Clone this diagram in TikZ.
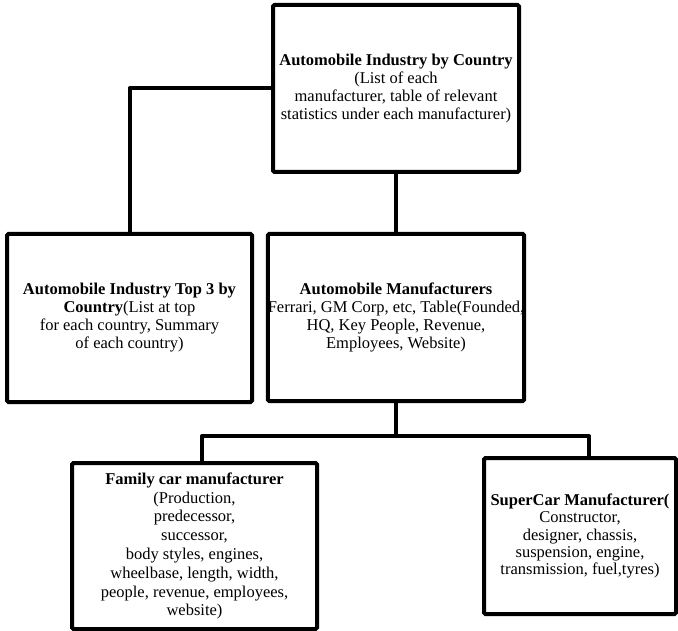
\documentclass[tikz,border=0pt]{standalone}
\usepackage{fontspec}
\setmainfont{Liberation Serif}
\begin{document}
\begin{tikzpicture}[x=1pt,y=-1pt,
  box/.style={draw=black, line width=4pt, rounded corners=1.5pt, inner sep=0pt,
    align=center, font=\fontsize{16.5}{18}\selectfont, fill=white},
  conn/.style={draw=black, line width=4pt, line join=round}]
\useasboundingbox (0,0) rectangle (678,631);
\node[box, minimum width=246pt, minimum height=167pt] (top) at (396,88.5)
  {\textbf{Automobile Industry by Country}\\(List of each\\manufacturer, table of relevant\\statistics under each manufacturer)};
\node[box, minimum width=245pt, minimum height=168pt] (left) at (129.5,318)
  {\textbf{Automobile Industry Top 3 by}\\\textbf{Country}(List at top\\for each country, Summary\\of each country)};
\node[box, minimum width=245pt, minimum height=167pt] (mid) at (396,317.5)
  {\textbf{Automobile Manufacturers}\\Ferrari, GM Corp, etc, Table(Founded,\\HQ, Key People, Revenue,\\Employees, Website)};
\node[box, minimum width=245pt, minimum height=166pt, font=\fontsize{16.5}{18.8}\selectfont] (bl) at (194.5,546)
  {\textbf{Family car manufacturer}\\(Production,\\predecessor,\\successor,\\body styles, engines,\\wheelbase, length, width,\\people, revenue, employees,\\website)};
\node[box, minimum width=192pt, minimum height=156pt, font=\fontsize{16.5}{17.2}\selectfont] (br) at (580,536)
  {\textbf{SuperCar Manufacturer(}\\Constructor,\\designer, chassis,\\suspension, engine,\\transmission, fuel,tyres)};
\coordinate (hm) at (396,436);
\coordinate (hl) at (202,436);
\coordinate (hr) at (589,436);
\draw[conn] (top.west) -| (left.north);
\draw[conn] (top.south) -- (mid.north);
\draw[conn] (mid.south) -- (hm);
\draw[conn] (bl.north -| hl) -- (hl) -- (hr) -- (br.north -| hr);
\end{tikzpicture}
\end{document}
